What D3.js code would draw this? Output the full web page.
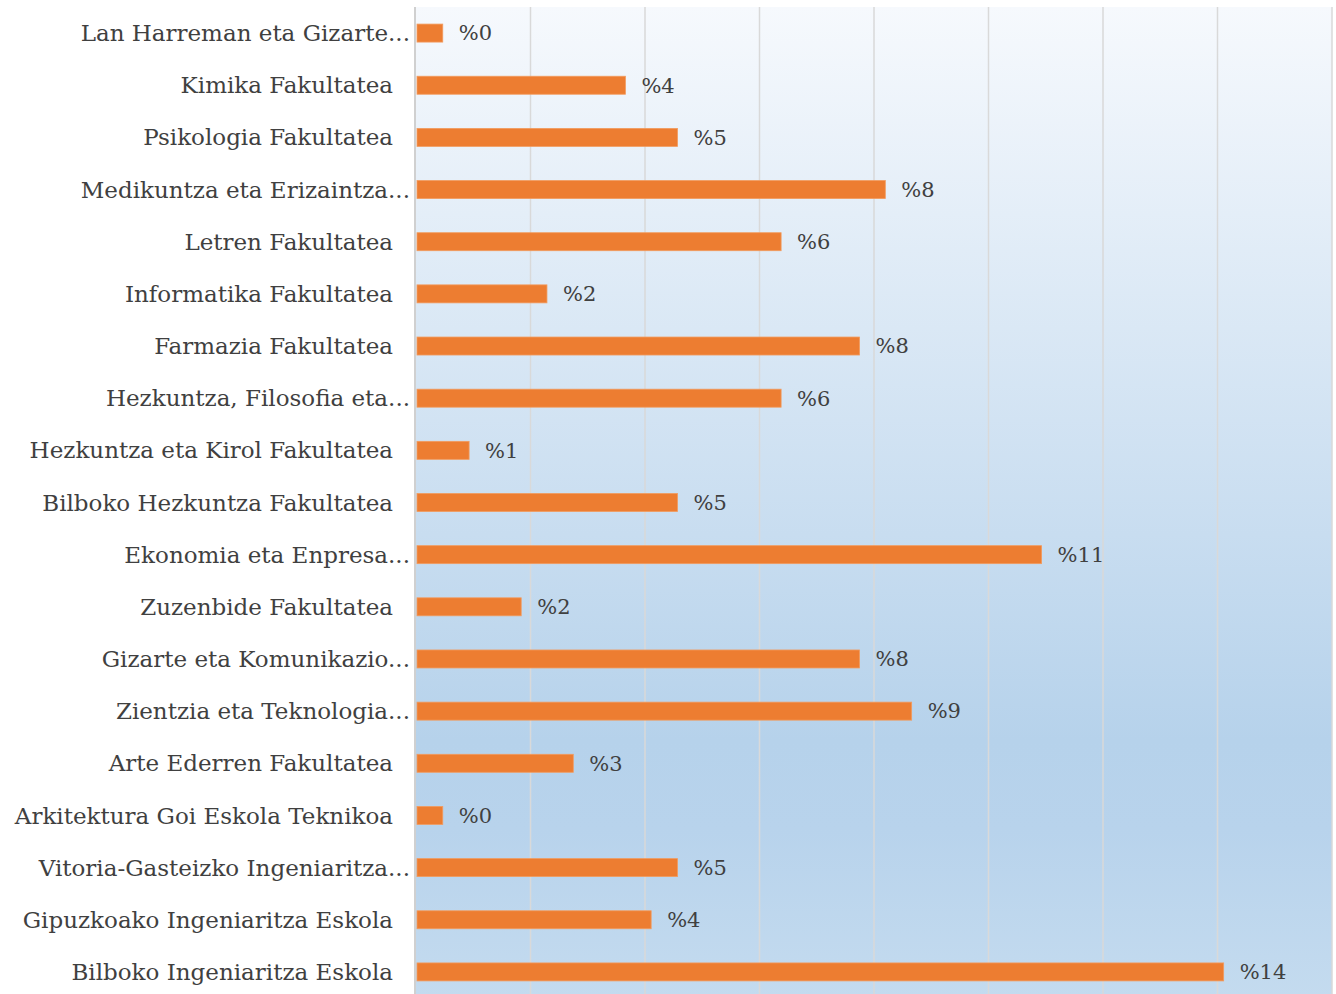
<!DOCTYPE html>
<html>
<head>
<meta charset="utf-8">
<script src="https://cdn.jsdelivr.net/npm/d3@7"></script>
<style>
  body { margin: 0; background: #fff; }
  svg { display: block; }
</style>
</head>
<body>
<svg id="chart"></svg>
<script>
// categories, top to bottom
const faculties = [
  "Lan Harreman eta Gizarte...",
  "Kimika Fakultatea",
  "Psikologia Fakultatea",
  "Medikuntza eta Erizaintza...",
  "Letren Fakultatea",
  "Informatika Fakultatea",
  "Farmazia Fakultatea",
  "Hezkuntza, Filosofia eta...",
  "Hezkuntza eta Kirol Fakultatea",
  "Bilboko Hezkuntza Fakultatea",
  "Ekonomia eta Enpresa...",
  "Zuzenbide Fakultatea",
  "Gizarte eta Komunikazio...",
  "Zientzia eta Teknologia...",
  "Arte Ederren Fakultatea",
  "Arkitektura Goi Eskola Teknikoa",
  "Vitoria-Gasteizko Ingeniaritza...",
  "Gipuzkoako Ingeniaritza Eskola",
  "Bilboko Ingeniaritza Eskola"
];

// share in percent
const shares = [0.45, 3.64, 4.55, 8.18, 6.36, 2.27, 7.73, 6.36, 0.91, 4.55,
                10.91, 1.82, 7.73, 8.64, 2.73, 0.45, 4.55, 4.09, 14.09];

const gridTicks = [0, 2, 4, 6, 8, 10, 12, 14, 16];

const data = faculties.map((f, i) => ({name: f, value: shares[i]}));

const width = 1336, height = 994;
const plot = {left: 416, right: 1332, top: 7, bottom: 998};
const font = "'DejaVu Serif', serif";

const svg = d3.select("#chart").attr("width", width).attr("height", height);

// background gradient of the plot area
const grad = svg.append("defs").append("linearGradient")
  .attr("id", "bg").attr("x1", 0).attr("y1", 0).attr("x2", 0).attr("y2", 1);
[[0, "#f6f9fd"], [0.74, "#b6d2eb"], [0.83, "#b8d3ec"], [1, "#c4dbef"]].forEach(s => {
  grad.append("stop").attr("offset", s[0]).attr("stop-color", s[1]);
});

svg.append("rect")
  .attr("x", plot.left).attr("y", plot.top)
  .attr("width", plot.right - plot.left).attr("height", plot.bottom - plot.top)
  .attr("fill", "url(#bg)");

const x = d3.scaleLinear().domain([0, 16]).range([plot.left, plot.right]);
const y = d3.scaleBand().domain(faculties)
  .range([plot.top, plot.bottom])
  .paddingInner(0.655).paddingOuter(0.3275);

// vertical gridlines
svg.append("g").selectAll("line")
  .data(gridTicks.slice(1))
  .join("line")
  .attr("x1", d => x(d)).attr("x2", d => x(d))
  .attr("y1", plot.top).attr("y2", height)
  .attr("stroke", "#d9d9d9").attr("stroke-width", 1.5);

// category axis
const yAxis = svg.append("g")
  .attr("transform", `translate(${plot.left - 1},0)`)
  .call(d3.axisLeft(y).tickSize(0).tickPadding(0));
yAxis.select(".domain")
  .attr("d", `M0,${plot.top}V${height}`)
  .attr("stroke", "#d0d0d0").attr("stroke-width", 2);
yAxis.selectAll("text")
  .attr("x", d => d.endsWith("...") ? -5 : -22)
  .attr("dy", "0.35em")
  .style("font-family", font)
  .style("font-size", "23px")
  .attr("fill", "#404040");

// bars
svg.append("g").selectAll("rect")
  .data(data)
  .join("rect")
  .attr("x", x(0) + 1)
  .attr("y", d => y(d.name))
  .attr("width", d => x(d.value) - x(0))
  .attr("height", y.bandwidth())
  .attr("fill", "#ed7d31")
  .attr("stroke", "#f29b5e").attr("stroke-width", 0.8);

// value labels
svg.append("g").selectAll("text")
  .data(data)
  .join("text")
  .attr("x", d => x(d.value) + 17)
  .attr("y", d => y(d.name) + y.bandwidth() / 2)
  .attr("dy", "0.35em")
  .style("font-family", font)
  .style("font-size", "21px")
  .attr("fill", "#404040")
  .text(d => "%" + Math.round(d.value));
</script>
</body>
</html>
